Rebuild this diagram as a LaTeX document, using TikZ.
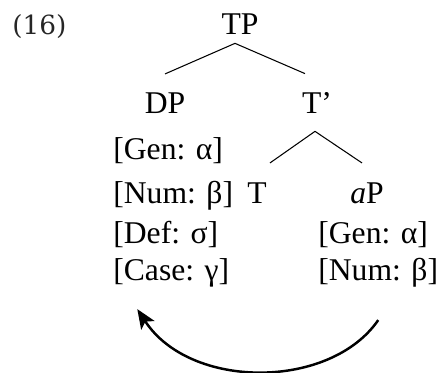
\documentclass[tikz,border=0pt]{standalone}
\usepackage{fontspec}
\setmainfont{Liberation Serif}
\newfontfamily\exnumfont{DejaVu Serif}
\usetikzlibrary{arrows.meta}
\begin{document}
\begin{tikzpicture}[every node/.style={inner sep=0pt,font=\fontsize{18}{22}\selectfont},
  cat/.style={anchor=base},
  feat/.style={anchor=base west},
  branch/.style={line width=0.6pt}]
\useasboundingbox (0,0) rectangle (8.8,7.44);
\node[anchor=base west,font=\exnumfont\fontsize{15}{18}\selectfont,text=black!85] (ex) at (0.24,6.74) {(16)};
\node[cat] (TP) at (4.8,6.74) {TP};
\node[cat] (DP) at (3.3,5.18) {DP};
\node[cat] (Tbar) at (6.34,5.18) {T’};
\node[feat] (gen) at (2.26,4.24) {[Gen: α]};
\node[feat] (num) at (2.26,3.38) {[Num: β]};
\node[feat] (def) at (2.26,2.58) {[Def: σ]};
\node[feat] (case) at (2.26,1.84) {[Case: γ]};
\node[cat] (T) at (5.14,3.38) {T};
\node[cat] (aP) at (7.34,3.38) {\textit{a}P};
\node[feat] (agen) at (6.36,2.58) {[Gen: α]};
\node[feat] (anum) at (6.36,1.84) {[Num: β]};
\draw [branch] ([xshift=-0.1cm,yshift=-0.16cm]TP.south)-- ([yshift=0.36cm]DP.north);
\draw [branch] ([xshift=-0.1cm,yshift=-0.16cm]TP.south)-- ([xshift=-0.24cm,yshift=0.36cm]Tbar.north);
\draw [branch] ([xshift=-0.04cm,yshift=-0.36cm]Tbar.south)-- ([xshift=0.26cm,yshift=0.38cm]T.north);
\draw [branch] ([xshift=-0.04cm,yshift=-0.36cm]Tbar.south)-- ([xshift=-0.1cm,yshift=0.38cm]aP.north);
\draw [line width=1.4pt,-{Stealth[length=11pt,width=9pt,inset=2.5pt]}] ([yshift=-0.66cm]anum.south) .. controls (6.6,-0.36) and (3.8,-0.36) .. ([xshift=-0.68cm,yshift=-0.44cm]case.south);
\end{tikzpicture}
\end{document}
